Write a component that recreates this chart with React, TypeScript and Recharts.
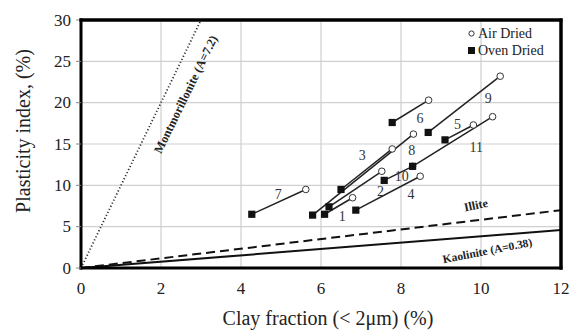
import React from 'react';
import {
  ComposedChart, Scatter, XAxis, YAxis, CartesianGrid, ReferenceLine, Label,
} from 'recharts';

// Samples 1..11
const sampleIds = ['1', '2', '3', '4', '5', '6', '7', '8', '9', '10', '11'];
const airClay = [6.79, 7.52, 8.31, 8.48, 9.81, 8.69, 5.62, 7.78, 10.48, 8.29, 10.29];
const airPI = [8.5, 11.7, 16.2, 11.1, 17.3, 20.3, 9.5, 14.4, 23.2, 12.3, 18.3];
const ovenClay = [6.09, 6.2, 5.79, 6.87, 9.1, 7.78, 4.27, 6.5, 8.68, 7.58, 8.29];
const ovenPI = [6.5, 7.4, 6.4, 7.0, 15.5, 17.6, 6.5, 9.5, 16.4, 10.6, 12.3];

// Sample number label positions
const labelClay = [6.53, 7.49, 7.03, 8.25, 9.41, 8.475, 4.93, 8.27, 10.18, 8.02, 9.88];
const labelPI = [6.2, 9.23, 13.66, 8.9, 17.3, 18.1, 8.9, 14.2, 20.5, 11.04, 14.6];

// Reference lines (mineral activity lines)
const montmorillonite = [{ x: 0, y: 0 }, { x: 3, y: 30 }];
const illite = [{ x: 0, y: 0 }, { x: 12, y: 7.0 }];
const kaolinite = [{ x: 0, y: 0 }, { x: 12, y: 4.6 }];

const lineNames = ['Montmorillonite (A=7.2)', 'Illite', 'Kaolinite (A=0.38)'];
const lineNameClay = [2.62, 9.87, 10.16];
const lineNamePI = [21.0, 7.6, 2.1];
const lineNameAngle = [-64, -12, -11];
const lineNameSize = [12.3, 12, 11.5];

const xTicks = [0, 2, 4, 6, 8, 10, 12];
const yTicks = [0, 5, 10, 15, 20, 25, 30];
const xDomain = [0, 12];
const yDomain = [0, 30];

const legendLabels = ['Air Dried', 'Oven Dried'];

const FONT = "'Liberation Serif', 'Times New Roman', serif";

const airData = airClay.map((x, i) => ({ x, y: airPI[i] }));
const ovenData = ovenClay.map((x, i) => ({ x, y: ovenPI[i] }));
const segments = sampleIds.map((id, i) => ({
  id,
  pts: [{ x: ovenClay[i], y: ovenPI[i] }, { x: airClay[i], y: airPI[i] }],
}));
const numberLabels = sampleIds.map((t, i) => ({ x: labelClay[i], y: labelPI[i], t }));
const nameLabels = lineNames.map((t, i) => ({
  x: lineNameClay[i], y: lineNamePI[i], t, a: lineNameAngle[i], s: lineNameSize[i],
}));

const Empty = () => <g />;

const CircleShape = (p: any) => (
  <circle cx={p.cx} cy={p.cy} r={3.3} fill="#fff" stroke="#333" strokeWidth={1} />
);
const SquareShape = (p: any) => (
  <rect x={p.cx - 3.6} y={p.cy - 3.6} width={7.2} height={7.2} fill="#111" />
);
const NumberShape = (p: any) => (
  <text x={p.cx} y={p.cy} textAnchor="middle" dominantBaseline="central" fontFamily={FONT} fontSize={14} fill="#333">
    {p.payload.t}
  </text>
);
const NameShape = (p: any) => (
  <text
    x={p.cx}
    y={p.cy}
    textAnchor="middle"
    dominantBaseline="central"
    fontFamily={FONT}
    fontSize={p.payload.s}
    fontWeight="bold"
    fill="#222"
    transform={`rotate(${p.payload.a} ${p.cx} ${p.cy})`}
  >
    {p.payload.t}
  </text>
);

const XTick = (p: any) => (
  <text x={p.x} y={p.y} textAnchor="middle" dominantBaseline="hanging" fontFamily={FONT} fontSize={17} fill="#222">
    {p.payload.value}
  </text>
);
const YTick = (p: any) => (
  <text x={p.x} y={p.y} textAnchor="end" dominantBaseline="central" fontFamily={FONT} fontSize={17} fill="#222">
    {p.payload.value}
  </text>
);

const frameLine = { stroke: '#000', strokeWidth: 3, strokeLinecap: 'square' as const };

export default function App() {
  return (
    <div style={{ position: 'absolute', left: 0, top: 0, width: 570, height: 335, background: '#fff', fontFamily: FONT }}>
      <ComposedChart width={570} height={335} margin={{ top: 19, right: 8, left: 0, bottom: 0 }}>
        <CartesianGrid stroke="#cfcfcf" strokeWidth={1.2} />
        <XAxis
          type="number"
          dataKey="x"
          domain={xDomain}
          ticks={xTicks}
          height={67}
          axisLine={frameLine}
          tickLine={false}
          tickMargin={8}
          tick={<XTick />}
          allowDataOverflow
        >
          <Label
            value="Clay fraction (< 2μm) (%)"
            position="center"
            dx={7}
            dy={16}
            style={{ fontFamily: FONT, fontSize: 20, fill: '#222' }}
          />
        </XAxis>
        <XAxis
          xAxisId="top"
          orientation="top"
          type="number"
          dataKey="x"
          domain={xDomain}
          ticks={xTicks}
          height={1}
          axisLine={frameLine}
          tickLine={false}
          tick={false}
          allowDataOverflow
        />
        <YAxis
          type="number"
          dataKey="y"
          domain={yDomain}
          ticks={yTicks}
          width={81}
          axisLine={frameLine}
          tickSize={5}
          tickLine={{ stroke: '#888' }}
          tickMargin={5}
          tick={<YTick />}
          allowDataOverflow
        >
          <Label
            value="Plasticity index, (%)"
            angle={-90}
            position="center"
            dx={-18}
            dy={-13}
            style={{ fontFamily: FONT, fontSize: 20, fill: '#222', textAnchor: 'middle' }}
          />
        </YAxis>
        <YAxis
          yAxisId="right"
          orientation="right"
          type="number"
          dataKey="y"
          domain={yDomain}
          ticks={yTicks}
          width={1}
          axisLine={frameLine}
          tickLine={false}
          tick={false}
          allowDataOverflow
        />
        <ReferenceLine segment={montmorillonite} stroke="#333" strokeWidth={1.8} strokeDasharray="1.2 2.2" ifOverflow="visible" />
        <ReferenceLine segment={illite} stroke="#111" strokeWidth={2} strokeDasharray="9 5" ifOverflow="visible" />
        <ReferenceLine segment={kaolinite} stroke="#111" strokeWidth={2} ifOverflow="visible" />
        {segments.map((s) => (
          <Scatter
            key={'seg' + s.id}
            data={s.pts}
            line={{ stroke: '#222', strokeWidth: 1.5 }}
            shape={Empty}
            isAnimationActive={false}
            legendType="none"
          />
        ))}
        <Scatter data={airData} shape={CircleShape} isAnimationActive={false} legendType="none" />
        <Scatter data={ovenData} shape={SquareShape} isAnimationActive={false} legendType="none" />
        <Scatter data={numberLabels} shape={NumberShape} isAnimationActive={false} legendType="none" />
        <Scatter
          data={nameLabels}
          xAxisId="top"
          yAxisId="right"
          shape={NameShape}
          isAnimationActive={false}
          legendType="none"
        />
      </ComposedChart>
      <svg
        width={570}
        height={335}
        style={{ position: 'absolute', left: 0, top: 0, pointerEvents: 'none' }}
      >
        <path d="M81 20 L561 20 L561 268" fill="none" stroke="#000" strokeWidth={3} strokeLinecap="square" />
      </svg>
      <div
        style={{
          position: 'absolute', left: 467, top: 25, fontFamily: FONT, fontSize: 14, color: '#222', lineHeight: '17px',
        }}
      >
        <div style={{ display: 'flex', alignItems: 'center' }}>
          <svg width={9} height={9} style={{ marginRight: 2 }}>
            <circle cx={4.5} cy={4.5} r={2.6} fill="#fff" stroke="#333" strokeWidth={1} />
          </svg>
          <span>{legendLabels[0]}</span>
        </div>
        <div style={{ display: 'flex', alignItems: 'center' }}>
          <svg width={9} height={9} style={{ marginRight: 2 }}>
            <rect x={1} y={1} width={7} height={7} fill="#111" />
          </svg>
          <span>{legendLabels[1]}</span>
        </div>
      </div>
    </div>
  );
}
